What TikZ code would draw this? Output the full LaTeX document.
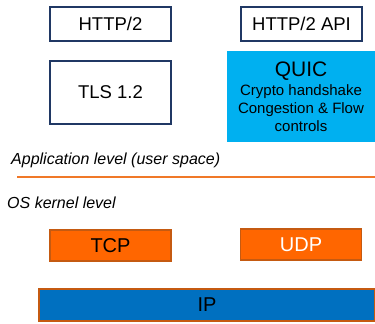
\documentclass[tikz,border=0pt]{standalone}
\usepackage{fontspec}
\setmainfont{Liberation Sans}
\usepackage{tikz}
\definecolor{boxnavy}{RGB}{32, 56, 100}
\definecolor{quicblue}{RGB}{0, 176, 240}
\definecolor{ipblue}{RGB}{0, 112, 192}
\definecolor{tcporange}{RGB}{255, 102, 0}
\definecolor{edgebrown}{RGB}{197, 90, 17}
\definecolor{lineorange}{RGB}{240, 120, 40}

\begin{document}
\begin{tikzpicture}[x=1pt, y=-1pt,
    appbox/.style={draw=boxnavy, line width=1.5pt, fill=white, inner sep=0pt,
        minimum width=121pt, font=\fontsize{18.5}{20}\selectfont},
    kernbox/.style={draw=edgebrown, line width=1.2pt, fill=tcporange, inner sep=0pt,
        minimum width=121pt, minimum height=31pt, font=\fontsize{20}{22}\selectfont},
    leveltext/.style={anchor=west, inner sep=0pt, font=\fontsize{16}{18}\selectfont\itshape}]
    \useasboundingbox (0,0) rectangle (375,324);

    % user space
    \node[appbox, minimum height=34pt] (http) at (110.5,24) {HTTP/2};
    \node[appbox, minimum height=34pt] (httpapi) at (301.5,24) {HTTP/2 API};
    \node[appbox, minimum height=63pt] (tls) at (110.5,92.5) {TLS 1.2};
    \node[fill=quicblue, inner sep=0pt, minimum width=148pt, minimum height=91pt,
        align=center, font=\fontsize{15}{17.7}\selectfont] (quic) at (301,96.5)
        {{\fontsize{21}{22}\selectfont QUIC}\\[2pt]
         Crypto handshake\\
         Congestion \& Flow\\ controls};

    % Trennlinie
    \node[leveltext] (app) at (11,160) {Application level (user space)};
    \coordinate (sepl) at (17,177);
    \coordinate (sepr) at (375,177);
    \draw[draw=lineorange, line width=1.2pt] (sepl) -- (sepr);
    \node[leveltext] (os) at (7,203) {OS kernel level};

    % kernel
    \node[kernbox] (tcp) at (110.5,245.5) {TCP};
    \node[kernbox, text=white] (udp) at (301,244.5) {UDP};
    \node[draw=edgebrown, line width=1.2pt, fill=ipblue, inner sep=0pt,
        minimum width=336pt, minimum height=32pt,
        font=\fontsize{20}{22}\selectfont] (ip) at (207,305) {IP};
\end{tikzpicture}
\end{document}
